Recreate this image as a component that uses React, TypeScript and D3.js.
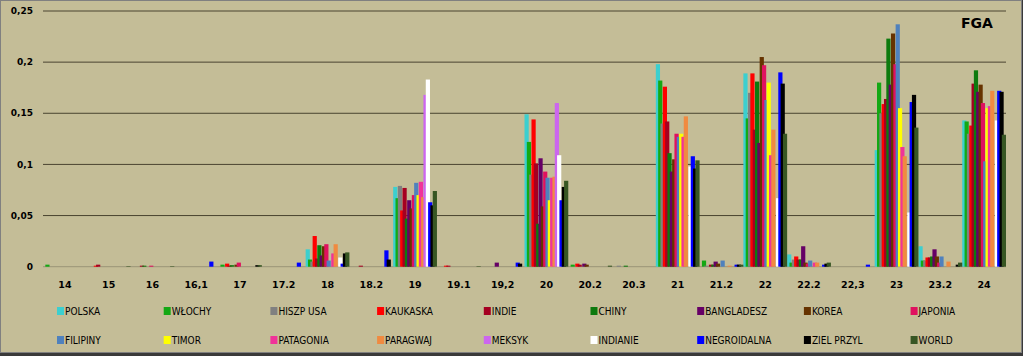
import React from "react";
import * as d3 from "d3";

const categories = ["14","15","16","16,1","17","17.2","18","18.2","19","19.1","19,2","20","20.2","20.3","21","21.2","22","22.2","22,3","23","23.2","24"];

const seriesNames = ["POLSKA","WŁOCHY","HISZP USA","KAUKASKA","INDIE","CHINY","BANGLADESZ","KOREA","JAPONIA","FILIPINY","TIMOR","PATAGONIA","PARAGWAJ","MEKSYK","INDIANIE","NEGROIDALNA","ZIEL PRZYL","WORLD"];

const seriesColors = ["#3CCFCF","#14A814","#808080","#FF0000","#A50021","#0E7A0E","#660066","#663300","#E0115F","#4F81BD","#FFFF00","#F03399","#F08A40","#CC66EE","#FFFFFF","#0000FF","#000000","#375623"];

const polska =      [0,0,0,0,0,0,0.017,0,0.078,0,0,0.149,0,0,0.198,0,0.189,0.012,0,0.114,0.020,0.143];
const wlochy =      [0.002,0,0,0,0.002,0,0.007,0,0.067,0,0,0.122,0.002,0,0.182,0.006,0.145,0.004,0,0.180,0.006,0.142];
const hiszpUsa =    [0,0,0,0,0,0,0.005,0,0.079,0,0,0.090,0,0.001,0.140,0.001,0.170,0.007,0,0.150,0.006,0.130];
const kaukaska =    [0,0.001,0,0,0.003,0,0.030,0,0.055,0.001,0,0.144,0.003,0,0.176,0,0.189,0.010,0,0.159,0.009,0.138];
const indie =       [0,0.002,0.001,0,0.001,0,0.008,0.001,0.077,0.001,0,0.101,0.002,0,0.142,0.002,0.134,0.007,0,0.164,0.009,0.179];
const chiny =       [0,0,0.001,0,0.0015,0,0.021,0,0.047,0,0,0.042,0,0.001,0.111,0.002,0.181,0.007,0,0.223,0.010,0.192];
const bangladesz =  [0,0,0,0,0,0,0.011,0,0.065,0,0.004,0.106,0.003,0,0.093,0.005,0.121,0.020,0,0.178,0.017,0.171];
const korea =       [0,0,0,0,0.002,0,0.020,0,0.057,0,0,0.059,0.002,0,0.105,0.003,0.205,0.004,0,0.228,0.010,0.178];
const japonia =     [0,0,0.001,0,0.004,0,0.022,0,0.070,0,0,0.093,0,0,0.130,0,0.197,0.003,0,0.198,0.004,0.160];
const filipiny =    [0,0,0,0,0,0,0.006,0,0.082,0,0,0.087,0,0,0.127,0.006,0.163,0.006,0,0.237,0.010,0.103];
const timor =       [0,0,0,0,0,0,0,0,0.070,0,0,0.065,0,0,0.130,0,0.180,0,0,0.155,0,0.155];
const patagonia =   [0,0,0,0,0,0,0.013,0,0.083,0,0,0.087,0,0,0.127,0,0.109,0.004,0,0.117,0,0.157];
const paragwaj =    [0,0,0,0,0,0,0.022,0,0.068,0,0,0.088,0,0,0.147,0.001,0.134,0.004,0,0.108,0.005,0.172];
const meksyk =      [0,0,0,0,0,0,0,0,0.168,0,0,0.160,0,0,0,0,0,0,0,0,0,0];
const indianie =    [0,0,0,0,0,0,0.009,0,0.183,0,0,0.109,0,0,0.098,0,0.067,0,0,0.053,0,0.143];
const negroidalna = [0,0,0,0.005,0,0.004,0.003,0.016,0.063,0,0.004,0.065,0,0,0.108,0.002,0.190,0.002,0.002,0.161,0,0.172];
const zielPrzyl =   [0,0,0,0,0.0015,0,0.013,0.007,0.060,0,0.003,0.078,0,0,0.096,0.002,0.179,0.003,0,0.168,0.002,0.171];
const world =       [0,0.0005,0.0005,0,0.0015,0,0.014,0,0.074,0.0005,0,0.084,0.001,0,0.104,0.002,0.130,0.004,0,0.136,0.004,0.129];

const seriesValues = [polska,wlochy,hiszpUsa,kaukaska,indie,chiny,bangladesz,korea,japonia,filipiny,timor,patagonia,paragwaj,meksyk,indianie,negroidalna,zielPrzyl,world];

const yTicks = [0, 0.05, 0.1, 0.15, 0.2, 0.25];
const title = "FGA";

const W = 1023;
const H = 356;
const plotLeft = 43;
const plotRight = 1006;
const plotTop = 11;
const plotBottom = 266.7;
const barW = 4.2;

export default function App() {
  const x = d3.scaleBand<string>().domain(categories).range([plotLeft, plotRight]).padding(0);
  const xs = d3.scalePoint<string>().domain(seriesNames).range([barW / 2, x.bandwidth() - barW / 2]);
  const y = d3.scaleLinear().domain([0, 0.25]).range([plotBottom, plotTop]);
  const fmt = (v: number) => (v === 0 ? "0" : d3.format(".2~f")(v).replace(".", ","));

  const legendCols = 9;
  const legendX0 = 57;
  const legendStep = 106.7;
  const legendRows = [311, 340];

  return (
    <svg width={W} height={H} style={{ position: "absolute", left: 0, top: 0 }} fontFamily="'DejaVu Sans', sans-serif">
      <rect x={0} y={0} width={W} height={H} fill="#3a3a3a" />
      <rect x={0.5} y={0.5} width={W - 2} height={352} fill="#C4BD97" stroke="#808080" />
      {yTicks.map((t) => (
        <g key={t}>
          {t > 0 && <line x1={plotLeft} x2={plotRight} y1={y(t)} y2={y(t)} stroke="#4A4430" strokeWidth={1} />}
          <text x={33} y={y(t)} dy="0.35em" textAnchor="end" fontSize={9} fontWeight="bold" fill="#000">{fmt(t)}</text>
        </g>
      ))}
      <line x1={plotLeft} x2={plotRight} y1={plotBottom} y2={plotBottom} stroke="#9a9478" strokeWidth={1} />
      {seriesNames.map((s, si) => (
        <g key={s}>
          {categories.map((c, ci) => {
            const v = seriesValues[si][ci];
            if (!v) return null;
            const bx = (x(c) as number) + (xs(s) as number) - barW / 2;
            return <rect key={c} x={bx} y={y(v)} width={barW} height={plotBottom - y(v)} fill={seriesColors[si]} />;
          })}
        </g>
      ))}
      {categories.map((c) => (
        <text key={c} x={(x(c) as number) + x.bandwidth() / 2} y={288} textAnchor="middle" fontSize={9.5} fontWeight="bold" fill="#000">{c}</text>
      ))}
      <text x={977} y={28} textAnchor="middle" fontSize={14} fontWeight="bold" fill="#000">{title}</text>
      {seriesNames.map((s, i) => {
        const col = i % legendCols;
        const row = Math.floor(i / legendCols);
        const lx = legendX0 + col * legendStep;
        const ly = legendRows[row];
        return (
          <g key={s}>
            <rect x={lx} y={ly - 4} width={7} height={8} fill={seriesColors[i]} />
            <text x={lx + 8} y={ly} dy="0.35em" fontSize={10} fontFamily="'DejaVu Sans Condensed', 'DejaVu Sans', sans-serif" fontStretch="condensed" fill="#000">{s}</text>
          </g>
        );
      })}
    </svg>
  );
}
